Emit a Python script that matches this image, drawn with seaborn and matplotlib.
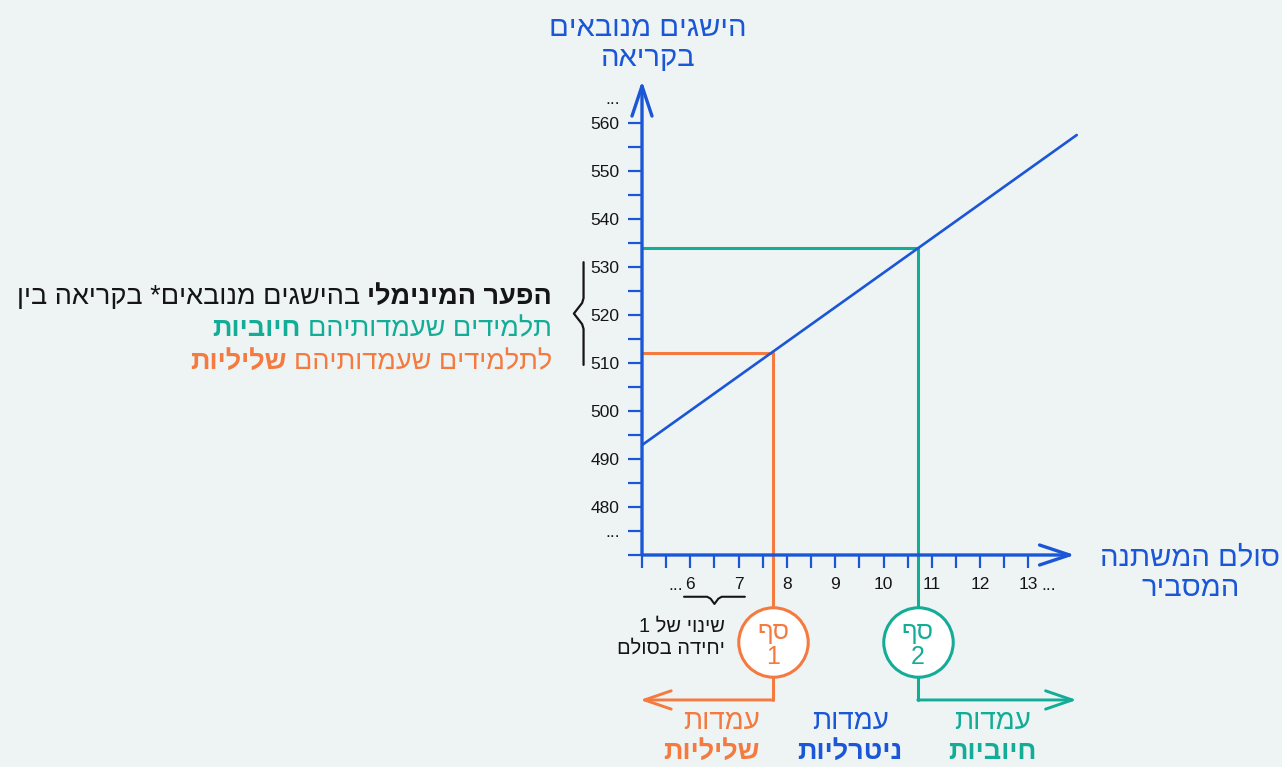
import pandas as pd
import numpy as np
import matplotlib.pyplot as plt
import seaborn as sns

# ערכים שנקראו מהתרשים
line_x = [5.0, 14.0]
line_y = [492.9, 557.5]
cutoff_x = [7.71, 10.71]
cutoff_y = [512.1, 534.0]
cutoff_names = ['1', '2']
x_ticks = np.arange(5, 13.01, 0.5)
x_labels = ['6', '7', '8', '9', '10', '11', '12', '13']
y_ticks = np.arange(470, 560.1, 5)
y_labels = ['480', '490', '500', '510', '520', '530', '540', '550', '560']

BLUE = '#1A56D6'
ORANGE = '#F47A3F'
GREEN = '#13AD97'
BG = '#EEF4F4'
INK = '#151515'


def heb(s):
    # matplotlib לא מטפל בכיווניות - הופכים לסדר ויזואלי
    return s[::-1]


sns.set_theme(style='white', rc={'figure.facecolor': BG, 'axes.facecolor': BG})
plt.rcParams['font.family'] = ['Liberation Sans', 'DejaVu Sans']

fig = plt.figure(figsize=(12.82, 7.67), dpi=100)
ax = fig.add_axes([642 / 1282, (767 - 555) / 767, 444.4 / 1282, 480 / 767])
ax.set_xlim(5, 14.2)
ax.set_ylim(470, 570)
for s in ax.spines.values():
    s.set_visible(False)

df = pd.DataFrame({'x': line_x, 'y': line_y})
sns.lineplot(data=df, x='x', y='y', ax=ax, color=BLUE, lw=1.9, zorder=4)
ax.set_xlabel('')
ax.set_ylabel('')

# צירים עם חצים
arrow = dict(arrowstyle='->,head_length=1.8,head_width=0.6', color=BLUE, lw=2.4,
             shrinkA=0, shrinkB=0)
ax.annotate('', xy=(13.96, 470), xytext=(5, 470), arrowprops=arrow, annotation_clip=False, zorder=6)
ax.annotate('', xy=(5, 568.8), xytext=(5, 470), arrowprops=arrow, annotation_clip=False, zorder=6)

ax.set_xticks(x_ticks)
ax.set_xticklabels([str(int(v)) if v in range(6, 14) else '' for v in x_ticks])
ax.set_yticks(y_ticks)
yl = []
for v in y_ticks:
    if v == 475:
        yl.append('...')
    elif v >= 480 and v % 10 == 0:
        yl.append(str(int(v)))
    else:
        yl.append('')
ax.set_yticklabels(yl)
ax.tick_params(axis='x', bottom=True, direction='out', length=9, width=1.6, color=BLUE,
               pad=7, labelsize=12.5, labelcolor=INK)
ax.tick_params(axis='y', left=True, direction='out', length=10, width=1.6, color=BLUE,
               pad=6, labelsize=12.5, labelcolor=INK)
ax.text(5.70, 462.7, '...', ha='center', va='baseline', fontsize=12.5, color=INK, clip_on=False)
ax.text(13.42, 462.7, '...', ha='center', va='baseline', fontsize=12.5, color=INK, clip_on=False)
ax.text(4.40, 565, '...', ha='center', va='center', fontsize=12.5, color=INK, clip_on=False)

# ספים
bottom_y = 439.8
circle_y = 451.9
for cx, cy, name, col, end_x in zip(cutoff_x, cutoff_y, cutoff_names, [ORANGE, GREEN], [4.96, 14.0]):
    ax.plot([5, cx], [cy, cy], color=col, lw=2.2, zorder=3, clip_on=False)
    ax.plot([cx, cx], [cy, bottom_y], color=col, lw=2.2, zorder=3, clip_on=False)
    ax.annotate('', xy=(end_x, bottom_y), xytext=(cx, bottom_y),
                arrowprops=dict(arrowstyle='->,head_length=1.6,head_width=0.55', color=col, lw=2.1,
                                shrinkA=0, shrinkB=0), annotation_clip=False)
    ax.scatter([cx], [circle_y], s=2500, facecolor='white', edgecolor=col, linewidth=2.2,
               zorder=5, clip_on=False)
    ax.text(cx, circle_y + 2.0, heb('סף'), ha='center', va='center', fontsize=18, color=col,
            zorder=6, clip_on=False)
    ax.text(cx, circle_y - 3.2, name, ha='center', va='center', fontsize=18, color=col,
            zorder=6, clip_on=False)

# כותרות צירים
ax.text(5.12, 576.6, heb('הישגים מנובאים') + '\n' + heb('בקריאה'), ha='center', va='center',
        fontsize=21, color=BLUE, linespacing=1.1, clip_on=False)
ax.text(16.35, 466.2, heb('סולם המשתנה') + '\n' + heb('המסביר'), ha='center', va='center',
        fontsize=21, color=BLUE, linespacing=1.1, clip_on=False)

# עמדות מתחת לציר
for xpos, ha, word, col in [(7.44, 'right', 'שליליות', ORANGE), (9.31, 'center', 'ניטרליות', BLUE),
                            (12.25, 'center', 'חיוביות', GREEN)]:
    ax.text(xpos, 435.2, heb('עמדות'), ha=ha, va='center', fontsize=20, color=col, clip_on=False)
    ax.text(xpos, 428.9, heb(word), ha=ha, va='center', fontsize=19.5, color=col,
            fontweight='bold', clip_on=False)

# סוגר מסולסל ליד ציר y
bx, by0, by1 = 3.79, 531.0, 509.6
bmid = (by0 + by1) / 2
ax.plot([bx, bx, bx - 0.03, bx - 0.2, bx - 0.03, bx, bx],
        [by0, bmid + 3.2, bmid + 2.2, bmid, bmid - 2.2, bmid - 3.2, by1],
        color=INK, lw=1.6, clip_on=False, solid_joinstyle='round')

# סוגר אופקי מתחת 6-7
hy = 461.3
ax.plot([5.87, 6.35, 6.42, 6.5, 6.58, 6.65, 7.13],
        [hy, hy, hy - 0.4, hy - 1.5, hy - 0.4, hy, hy],
        color=INK, lw=1.5, clip_on=False)
ax.text(6.72, 455.1, '1 ' + heb('שינוי של'), ha='right', va='center',
        fontsize=14.5, color=INK, clip_on=False)
ax.text(6.72, 450.7, heb('יחידה בסולם'), ha='right', va='center',
        fontsize=14.5, color=INK, clip_on=False)

# טקסט הפער המינימלי
right_x = 3.14
lines = [
    (523.7, 'הפער המינימלי', 'bold', INK, 'בהישגים מנובאים* בקריאה בין', 'normal', INK),
    (517.0, 'תלמידים שעמדותיהם', 'normal', GREEN, 'חיוביות', 'bold', GREEN),
    (510.2, 'לתלמידים שעמדותיהם', 'normal', ORANGE, 'שליליות', 'bold', ORANGE),
]
for yy, t1, w1, c1, t2, w2, c2 in lines:
    first = ax.text(right_x, yy, heb(t1), ha='right', va='center', fontsize=19.5, fontweight=w1,
                    color=c1, clip_on=False)
    ax.annotate(heb(t2), xy=(0, 0), xycoords=first, xytext=(-5.5, 0), textcoords='offset points',
                ha='right', va='bottom', fontsize=19.5, fontweight=w2, color=c2, annotation_clip=False)

fig.savefig('out.png', dpi=100, facecolor=BG)
